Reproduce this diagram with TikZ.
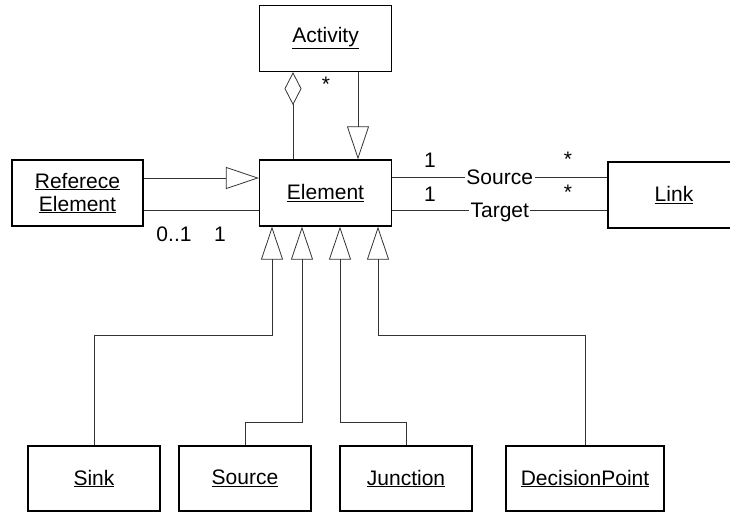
\documentclass[tikz,border=0pt]{standalone}
\usepackage{fontspec}
\setmainfont{Liberation Sans}
\usetikzlibrary{arrows.meta}

\begin{document}
\begin{tikzpicture}[x=1pt,y=-1pt,
  every node/.style={font=\fontsize{21}{23}\selectfont},
  classbox/.style={draw=black,line width=1.3pt,minimum width=132pt,minimum height=66pt,inner sep=0pt,align=center},
  conn/.style={draw=black!80,line width=0.8pt},
  genarrow/.style={conn,-{Triangle[open,length=33pt,width=22pt,line width=0.8pt]}},
  aggr/.style={conn,-{Diamond[open,length=33pt,width=17pt,line width=0.8pt]}},
  mult/.style={inner sep=0pt},
  rolelabel/.style={fill=white,inner xsep=1.5pt,inner ysep=0pt,text height=15pt,text depth=0pt}
]
\useasboundingbox (0,0) rectangle (730,512);
\clip (0,0) rectangle (730,512);

% classes
\node[classbox] (activity) at (325.5,38.5) {\underline{Activity}};
\node[classbox] (element)  at (325.5,193)  {\underline{Element}};
\node[classbox,minimum width=131pt] (refel) at (77.5,193) {\underline{Referece}\\\underline{Element}};
\node[classbox] (link) at (674,195) {\underline{Link}};
\node[classbox,minimum height=65pt] (sink)     at (94,478.5)  {\underline{Sink}};
\node[classbox,minimum height=65pt] (source)   at (245,478.5) {\underline{Source}};
\node[classbox,minimum height=65pt] (junction) at (406,478.5) {\underline{Junction}};
\node[classbox,minimum height=65pt,minimum width=158pt] (dpoint) at (585,478.5) {\underline{DecisionPoint}};

% Activity aggregates Elements and is itself an Element
\draw[aggr] ([xshift=-32.5pt]element.north) -- ([xshift=-32.5pt]activity.south);
\node[mult] (actstar) at (326,84) {*};
\draw[genarrow] ([xshift=32.5pt]activity.south) -- ([xshift=32.5pt]element.north);

% Reference element
\draw[genarrow] ([yshift=15pt]refel.east) -- ([yshift=15pt]element.west);
\draw[conn] ([yshift=-17pt]refel.east) -- ([yshift=-17pt]element.west);
\node[mult] (refmult) at (174,234) {0..1};
\node[mult] (elmult)  at (220,234) {1};

% Source / Target associations with Link
\draw[conn] ([yshift=16pt]element.east) -- node[rolelabel] (srclabel) {Source} ([yshift=18pt]link.west);
\draw[conn] ([yshift=-17pt]element.east) -- node[rolelabel] (tgtlabel) {Target} ([yshift=-15pt]link.west);
\node[mult] (srcone)  at (430,160) {1};
\node[mult] (tgtone)  at (430,194) {1};
\node[mult] (srcstar) at (568,159) {*};
\node[mult] (tgtstar) at (568,192) {*};

% specialisations of Element
\draw[genarrow] (sink.north) -- ++(0,-110) -| ([xshift=-53.5pt]element.south);
\draw[genarrow] (source.north) -- ++(0,-23) -| ([xshift=-23.5pt]element.south);
\draw[genarrow] (junction.north) -- ++(0,-23) -| ([xshift=14.5pt]element.south);
\draw[genarrow] (dpoint.north) -- ++(0,-110) -| ([xshift=52.5pt]element.south);
\end{tikzpicture}
\end{document}
